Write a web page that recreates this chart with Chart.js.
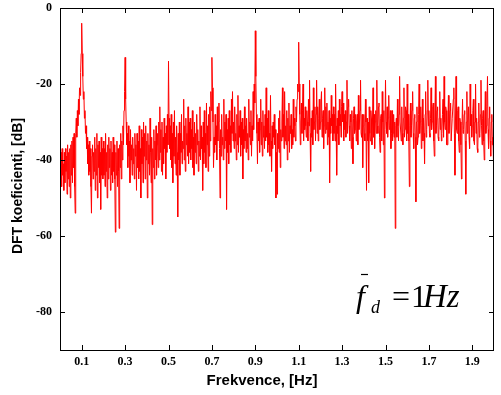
<!DOCTYPE html>
<html>
<head>
<meta charset="utf-8">
<script src="https://cdn.jsdelivr.net/npm/chart.js@4.4.1/dist/chart.umd.min.js"></script>
<style>
  html, body { margin: 0; padding: 0; background: #fff; }
  #wrap { width: 501px; height: 395px; position: relative; }
</style>
</head>
<body>
<div id="wrap"><canvas id="myChart" width="501" height="395"></canvas></div>
<script>
// spectrum sampled every 0.0025 Hz, 0 .. 2 Hz (one row = 0.05 Hz)
const STEP_HZ = 0.0025;
const DFT_DB = [
  -40,-45,-38,-47,-37,-44,-41,-48,-38,-46,-37,-43,-39,-49,-36,-45,-38,-47,-37,-50,
  -36,-44,-35,-46,-34,-42,-33,-47,-54,-33,-29,-34,-27,-31,-24,-28,-21,-23,-17,-12,
  -4,-12,-18,-24,-22,-29,-27,-33,-31,-37,-34,-41,-36,-44,-35,-43,-37,-47,-54,-39,
  -36,-45,-38,-43,-34,-48,-37,-44,-33,-50,-36,-42,-35,-46,-38,-53,-34,-44,-37,-45,
  -35,-44,-37,-47,-33,-43,-38,-50,-36,-45,-34,-42,-37,-48,-35,-44,-38,-46,-34,-43,
  -36,-45,-59,-38,-44,-35,-47,-37,-43,-58,-36,-42,-33,-45,-35,-40,-31,-36,-27,-22,
  -13,-24,-30,-36,-33,-42,-31,-39,-35,-46,-32,-40,-36,-44,-34,-41,-37,-45,-33,-39,
  -36,-48,-33,-42,-35,-45,-31,-43,-37,-50,-32,-41,-34,-46,-30,-39,-33,-45,-31,-40,
  -35,-50,-33,-41,-36,-44,-29,-38,-46,-34,-57,-37,-42,-32,-45,-35,-40,-31,-44,-36,
  -33,-42,-30,-40,-26,-38,-32,-43,-30,-44,-34,-41,-29,-37,-33,-45,-31,-38,-28,-36,
  -14,-29,-37,-31,-40,-28,-42,-33,-46,-30,-39,-27,-41,-34,-44,-31,-38,-55,-33,-40,
  -30,-44,-33,-38,-28,-41,-35,-37,-24,-40,-31,-43,-29,-36,-33,-39,-26,-41,-30,-38,
  -29,-40,-32,-37,-27,-42,-34,-44,-30,-38,-33,-41,-28,-36,-32,-43,-35,-39,-26,-40,
  -31,-37,-34,-48,-30,-41,-27,-38,-33,-42,-25,-36,-31,-43,-28,-39,-26,-35,-22,-27,
  -13,-21,-30,-42,-34,-38,-28,-36,-31,-40,-26,-35,-30,-25,-37,-50,-32,-39,-28,-36,
  -34,-40,-24,-37,-30,-35,-28,-53,-32,-38,-29,-41,-27,-36,-31,-38,-24,-33,-22,-35,
  -30,-37,-26,-35,-33,-40,-28,-36,-23,-38,-31,-34,-27,-39,-30,-36,-29,-45,-32,-37,
  -26,-35,-31,-38,-29,-37,-33,-40,-24,-34,-30,-36,-27,-39,-31,-35,-22,-32,-20,-25,
  -6,-18,-28,-33,-41,-30,-35,-29,-38,-32,-24,-36,-30,-39,-27,-34,-31,-37,-28,-35,
  -21,-34,-29,-38,-27,-36,-33,-39,-23,-35,-43,-31,-37,-30,-34,-28,-36,-32,-50,-38,
  -49,-33,-37,-29,-38,-27,-42,-32,-35,-30,-21,-34,-28,-37,-22,-35,-31,-36,-27,-40,
  -29,-35,-25,-38,-31,-33,-28,-37,-32,-36,-24,-34,-29,-31,-35,-26,-30,-24,-20,-22,
  -9,-20,-28,-36,-30,-25,-33,-27,-20,-35,-29,-32,-26,-31,-34,-27,-30,-35,-24,-31,
  -19,-33,-43,-29,-34,-27,-36,-21,-32,-30,-26,-35,-28,-19,-33,-26,-35,-29,-24,-32,
  -30,-25,-22,-34,-29,-27,-37,-31,-21,-33,-26,-32,-25,-36,-30,-34,-27,-46,-29,-33,
  -23,-31,-28,-35,-26,-33,-28,-35,-20,-31,-44,-29,-33,-27,-36,-24,-31,-28,-34,-26,
  -22,-30,-25,-35,-28,-32,-27,-34,-30,-19,-33,-26,-24,-31,-35,-28,-30,-37,-27,-34,
  -41,-29,-26,-33,-32,-28,-35,-30,-28,-36,-23,-32,-30,-27,-19,-33,-34,-28,-42,-31,
  -28,-33,-35,-24,-30,-48,-29,-35,-30,-46,-26,-33,-35,-27,-29,-36,-30,-21,-34,-28,
  -37,-30,-27,-33,-19,-31,-33,-26,-25,-34,-38,-29,-28,-35,-22,-30,-36,-27,-50,-32,
  -19,-30,-33,-26,-34,-29,-23,-32,-31,-27,-37,-33,-27,-35,-33,-28,-34,-30,-58,-31,
  -29,-34,-24,-31,-35,-28,-18,-30,-30,-35,-26,-33,-36,-29,-21,-34,-32,-26,-27,-35,
  -20,-33,-28,-35,-47,-31,-25,-34,-31,-27,-22,-33,-37,-29,-28,-34,-51,-30,-26,-36,
  -34,-28,-20,-33,-30,-26,-37,-31,-24,-35,-29,-33,-41,-28,-22,-34,-32,-27,-19,-31,
  -27,-33,-34,-29,-21,-32,-30,-26,-25,-35,-39,-30,-18,-33,-31,-27,-26,-34,-35,-29,
  -22,-32,-29,-35,-33,-28,-24,-34,-18,-30,-32,-26,-27,-36,-36,-30,-23,-33,-30,-27,
  -25,-35,-35,-29,-29,-24,-21,-33,-44,-30,-18,-32,-33,-27,-26,-35,-38,-29,-30,-36,
  -45,-31,-24,-33,-32,-28,-27,-35,-49,-30,-22,-33,-30,-26,-34,-37,-20,-31,-28,-34,
  -31,-27,-24,-35,-36,-30,-20,-33,-29,-37,-38,-30,-25,-34,-33,-28,-19,-31,-36,-29,
  -27,-35,-40,-30,-22,-33,-31,-26,-18,-32,-37,-29,-26,-35,-39,-30,-28,-36,-34,-40,
  -47
];
const X_TICKS = [0.1, 0.3, 0.5, 0.7, 0.9, 1.1, 1.3, 1.5, 1.7, 1.9];
const Y_TICKS = [0, -20, -40, -60, -80];
const X_TITLE = 'Frekvence, [Hz]';
const Y_TITLE = 'DFT koeficienti, [dB]';

const points = DFT_DB.map((v, i) => ({ x: i * STEP_HZ, y: v }));

// matlab like box with inward ticks, titles and the f_d note
const matlabFrame = {
    id: 'matlabFrame',
    afterDraw(chart) {
        const { ctx, chartArea: a, scales: { x, y } } = chart;
        ctx.save();
        ctx.strokeStyle = '#000';
        ctx.lineWidth = 1;
        ctx.strokeRect(a.left + 0.5, a.top + 0.5, a.right - a.left - 1, a.bottom - a.top);

        ctx.beginPath();
        for (const t of X_TICKS) {
            const px = Math.round(x.getPixelForValue(t)) + 0.5;
            ctx.moveTo(px, a.bottom); ctx.lineTo(px, a.bottom - 5);
            ctx.moveTo(px, a.top); ctx.lineTo(px, a.top + 5);
        }
        for (const t of Y_TICKS) {
            const py = Math.round(y.getPixelForValue(t)) + 0.5;
            ctx.moveTo(a.left, py); ctx.lineTo(a.left + 5, py);
            ctx.moveTo(a.right, py); ctx.lineTo(a.right - 5, py);
        }
        ctx.stroke();

        ctx.fillStyle = '#000';
        ctx.font = 'bold 15px "Liberation Sans", Arial, sans-serif';
        ctx.textAlign = 'center';
        ctx.textBaseline = 'middle';
        ctx.fillText(X_TITLE, 262, 381);
        ctx.translate(18, 186);
        ctx.rotate(-Math.PI / 2);
        ctx.font = 'bold 14px "Liberation Sans", Arial, sans-serif';
        ctx.fillText(Y_TITLE, 0, 0);
        ctx.restore();

        // annotation
        ctx.save();
        ctx.fillStyle = '#000';
        ctx.textBaseline = 'alphabetic';
        ctx.textAlign = 'left';
        ctx.font = 'italic 32px "Liberation Serif", serif';
        ctx.fillText('f', 356, 307);
        ctx.font = 'italic 18px "Liberation Serif", serif';
        ctx.fillText('d', 371, 313);
        ctx.font = '32px "Liberation Serif", serif';
        ctx.fillText('=', 392, 307);
        ctx.fillText('1', 411, 307);
        ctx.font = 'italic 33px "Liberation Serif", serif';
        ctx.fillText('Hz', 423, 307);
        ctx.strokeStyle = '#000';
        ctx.lineWidth = 1.2;
        ctx.beginPath();
        ctx.moveTo(361, 274.5); ctx.lineTo(368, 274.5);
        ctx.stroke();
        ctx.restore();
    }
};

new Chart(document.getElementById('myChart'), {
    type: 'line',
    data: {
        datasets: [{
            data: points,
            borderColor: '#ff0000',
            borderWidth: 1,
            pointRadius: 0,
            tension: 0,
            fill: false,
        }]
    },
    options: {
        responsive: false,
        animation: false,
        layout: { padding: { left: 0, top: 8, right: 7, bottom: 0 } },
        plugins: { legend: { display: false }, tooltip: { enabled: false } },
        scales: {
            x: {
                type: 'linear',
                min: 0,
                max: 2,
                afterFit(scale) { scale.height = 45; },
                afterBuildTicks(scale) { scale.ticks = X_TICKS.map(v => ({ value: v })); },
                grid: { display: false, drawTicks: false },
                border: { display: false },
                ticks: {
                    padding: 5,
                    color: '#000',
                    font: { family: '"Liberation Serif", serif', size: 12, weight: 'bold' },
                    callback: v => v.toFixed(1),
                    maxRotation: 0,
                    autoSkip: false,
                },
            },
            y: {
                min: -90,
                max: 0,
                afterFit(scale) {
                    scale.width = 60;
                    scale.paddingTop = 0;
                    scale.paddingBottom = 0;
                },
                afterBuildTicks(scale) { scale.ticks = Y_TICKS.map(v => ({ value: v })); },
                grid: { display: false, drawTicks: false },
                border: { display: false },
                ticks: {
                    padding: 8,
                    color: '#000',
                    font: { family: '"Liberation Serif", serif', size: 12, weight: 'bold' },
                    autoSkip: false,
                },
            }
        }
    },
    plugins: [matlabFrame]
});
</script>
</body>
</html>
